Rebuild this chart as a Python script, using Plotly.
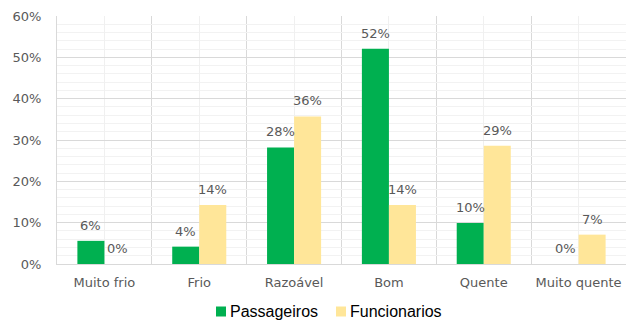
import plotly.graph_objects as go

# Survey: thermal comfort perception, share of respondents per answer
categories = ["Muito frio", "Frio", "Razoável", "Bom", "Quente", "Muito quente"]
passageiros = [0.056, 0.042, 0.282, 0.521, 0.099, 0.0]
funcionarios = [0.0, 0.143, 0.357, 0.143, 0.286, 0.071]
y_ticks = [0, 0.1, 0.2, 0.3, 0.4, 0.5, 0.6]

GREEN = "#00B050"
YELLOW = "#FFE699"
TEXT = "#595959"
FONT = "DejaVu Sans"

W, H = 626, 320
L, R, T, B = 57, 0, 16, 56
plot_w = W - L - R
plot_h = H - T - B

x_pos = list(range(len(categories)))
series = [("Passageiros", passageiros, GREEN, -13.5),
          ("Funcionarios", funcionarios, YELLOW, 13.5)]

fig = go.Figure()
for name, vals, color, _ in series:
    fig.add_trace(go.Bar(
        x=x_pos, y=vals, name=name,
        marker=dict(color=color, line=dict(width=0)),
        showlegend=False,
    ))

# value labels above each bar
annotations = []
for name, vals, color, shift in series:
    for xi, v in zip(x_pos, vals):
        annotations.append(dict(
            x=xi, y=v, xref="x", yref="y",
            text=f"{v:.0%}", showarrow=False,
            xanchor="center", yanchor="bottom",
            xshift=shift, yshift=6,
            font=dict(family=FONT, size=13, color=TEXT),
        ))

# legend row under the axis: 10px swatch + label
def px_x(px):
    return (px - L) / plot_w

def px_y(py):
    return -(py - (T + plot_h)) / plot_h

shapes = []
legend_y = 311.5
legend_items = [("Passageiros", GREEN, 216), ("Funcionarios", YELLOW, 336)]
for name, color, px in legend_items:
    shapes.append(dict(
        type="rect", xref="paper", yref="paper",
        xsizemode="pixel", ysizemode="pixel",
        xanchor=px_x(px), yanchor=px_y(legend_y),
        x0=0, x1=10, y0=-5, y1=5,
        fillcolor=color, line=dict(width=0), layer="above",
    ))
    annotations.append(dict(
        x=px_x(px + 12), y=px_y(legend_y),
        xref="paper", yref="paper", text=name,
        showarrow=False, xanchor="left", yanchor="middle",
        font=dict(family="Liberation Sans", size=16, color="#000000"),
    ))

fig.update_layout(
    width=W, height=H,
    margin=dict(l=L, r=R, t=T, b=B),
    paper_bgcolor="white", plot_bgcolor="white",
    barmode="group", bargap=0.43, bargroupgap=0,
    font=dict(family=FONT, size=13, color=TEXT),
    showlegend=False,
    annotations=annotations,
    shapes=shapes,
    xaxis=dict(
        range=[-0.5, len(categories) - 0.5],
        tickmode="array", tickvals=x_pos, ticktext=categories,
        showgrid=True, gridcolor="#F0F0F0", gridwidth=1,
        minor=dict(tickmode="linear", tick0=-0.5, dtick=1,
                   showgrid=True, gridcolor="#D9D9D9", gridwidth=1),
        showline=True, linecolor="#D9D9D9", linewidth=1,
        ticks="", ticklabelstandoff=6,
        zeroline=False, fixedrange=True,
    ),
    yaxis=dict(
        range=[0, 0.6],
        tickmode="array", tickvals=y_ticks, tickformat=".0%",
        showgrid=True, gridcolor="#D9D9D9", gridwidth=1,
        minor=dict(tickmode="linear", tick0=0, dtick=0.02,
                   showgrid=True, gridcolor="#F2F2F2", gridwidth=1),
        showline=True, linecolor="#D9D9D9", linewidth=1,
        ticks="", ticklabelstandoff=12,
        zeroline=False, fixedrange=True,
    ),
)

fig.write_html("out.html")
